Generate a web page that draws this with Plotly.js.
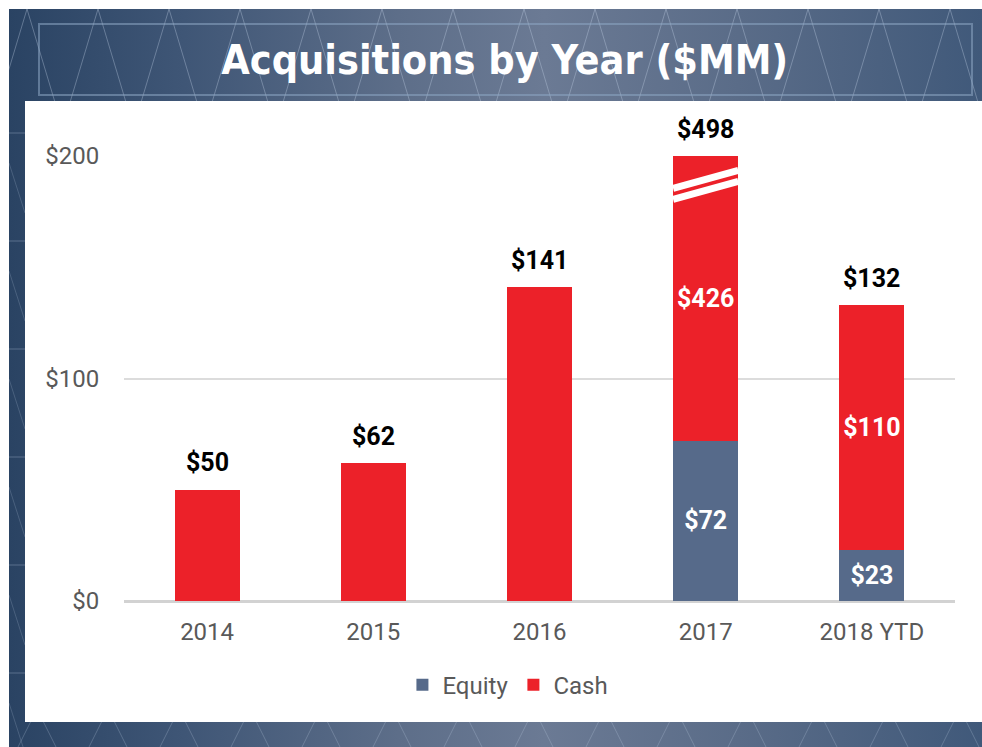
<!DOCTYPE html>
<html>
<head>
<meta charset="utf-8">
<script src="https://cdn.plot.ly/plotly-3.0.1.min.js"></script>
<style>
  html, body { margin: 0; padding: 0; background: #ffffff; }
  #wrap { position: relative; width: 982px; height: 747px; overflow: hidden; background: #ffffff; }
  #bg { position: absolute; left: 9px; top: 9px; width: 973px; height: 738px;
        background: linear-gradient(to right, #2a4363 0%, #3f5676 18%, #5d6e89 40%, #6b7a94 55%, #5a6c88 75%, #40597a 100%); }
  #pattern { position: absolute; left: 9px; top: 9px; width: 973px; height: 738px; }
  #panel { position: absolute; left: 25px; top: 101px; width: 957px; height: 621px; background: #ffffff; }
  #titlebox { position: absolute; left: 38px; top: 23px; width: 931px; height: 69px;
              border: 2px solid rgba(140,165,195,0.55); }
  #chart { position: absolute; left: 0; top: 0; width: 982px; height: 747px; }
</style>
</head>
<body>
<div id="wrap">
  <div id="bg"></div>
  <svg id="pattern" width="973" height="738"></svg>
  <div id="titlebox"></div>
  <div id="panel"></div>
  <div id="chart"></div>
</div>
<script>
// ---- data ----
const years  = ['2014', '2015', '2016', '2017', '2018 YTD'];
const equity = [0, 0, 0, 72, 23];
const cash   = [50, 62, 141, 426, 110];
const totals = [50, 62, 141, 498, 132];
const yTickVals = [0, 100, 200];
const yTickText = ['$0', '$100', '$200'];
const axisMax = 200;

// ---- decorative background pattern ----
(function () {
  const svg = document.getElementById('pattern');
  const ns = 'http://www.w3.org/2000/svg';
  function line(x1, y1, x2, y2, op) {
    const l = document.createElementNS(ns, 'line');
    l.setAttribute('x1', x1); l.setAttribute('y1', y1);
    l.setAttribute('x2', x2); l.setAttribute('y2', y2);
    l.setAttribute('stroke', 'rgba(200,215,235,' + op + ')');
    l.setAttribute('stroke-width', '1');
    svg.appendChild(l);
  }
  for (let k = -1; k < 16; k++) {
    const ax = 18 + 71 * k;
    line(ax, 0, ax - 36, 120, 0.35);
    line(ax, 0, ax + 36, 120, 0.35);
    line(ax + 10, 700, ax - 20, 760, 0.25);
    line(ax + 10, 700, ax + 40, 760, 0.25);
  }
  for (let j = 0; j < 7; j++) {
    const yy = 124 + 108 * j;
    line(0, yy, 16, yy, 0.3);
    line(0, yy + 30, 16, yy + 80, 0.2);
  }
})();

// ---- derived display values (2017 cash is broken at the axis max) ----
const cashShown = cash.map((c, i) => Math.min(c, axisMax - equity[i]));
const stackTop  = cashShown.map((c, i) => c + equity[i]);

const equityText = equity.map(v => v > 0 ? '$' + v : '');
const cashText   = cash.map((v, i) => equity[i] > 0 ? '$' + v : '');

const labelFont = { family: 'Roboto, Arial, sans-serif', size: 25, color: '#ffffff', weight: 'bold' };

const traces = [
  {
    type: 'bar', name: 'Equity', x: years, y: equity,
    marker: { color: '#566a8a', line: { width: 0 } },
    text: equityText, textposition: 'inside', insidetextanchor: 'middle', textangle: 0,
    insidetextfont: labelFont, hoverinfo: 'x+name+y'
  },
  {
    type: 'bar', name: 'Cash', x: years, y: cashShown,
    customdata: cash,
    marker: { color: '#ec2129', line: { width: 0 } },
    text: cashText, textposition: 'inside', insidetextanchor: 'middle', textangle: 0,
    insidetextfont: labelFont, hovertemplate: '%{x}<br>Cash: $%{customdata}<extra></extra>'
  }
];

// total labels above each stack (x given as category index)
const annotations = years.map((yr, i) => ({
  x: i, y: stackTop[i], xref: 'x', yref: 'y',
  text: '$' + totals[i], showarrow: false,
  yanchor: 'middle', yshift: 27,
  font: { family: 'Roboto, Arial, sans-serif', size: 25, color: '#000000', weight: 'bold' }
}));

// break marks on the capped 2017 bar (white slanted bands)
const bi = cash.findIndex((c, i) => c + equity[i] > axisMax);
const shapes = [];
if (bi >= 0) {
  const hw = 0.2;
  const bands = [[185.4, 193.5], [180.5, 188.6]];
  bands.forEach(b => {
    shapes.push({
      type: 'line', xref: 'x', yref: 'y', layer: 'above',
      x0: bi - hw + 0.004, y0: b[0], x1: bi + hw - 0.004, y1: b[1],
      line: { color: '#ffffff', width: 7 }
    });
  });
}

const layout = {
  width: 982, height: 747,
  paper_bgcolor: 'rgba(0,0,0,0)', plot_bgcolor: '#ffffff',
  margin: { l: 124, r: 27, t: 156, b: 146 },
  barmode: 'stack', bargap: 0.61,
  title: {
    text: 'Acquisitions by Year ($MM)',
    x: 0.514, xref: 'container', xanchor: 'center',
    y: 1 - 60 / 747, yref: 'container', yanchor: 'middle',
    font: { family: 'Liberation Sans Narrow, DejaVu Sans Condensed, Roboto Condensed, Roboto, sans-serif', size: 41, color: '#ffffff', weight: 'bold' }
  },
  xaxis: {
    type: 'category', range: [-0.5, 4.5], autorange: false,
    showgrid: false, zeroline: false, showline: false,
    ticks: 'outside', ticklen: 9, tickcolor: 'rgba(0,0,0,0)',
    tickfont: { family: 'Roboto, Arial, sans-serif', size: 24, color: '#595959' },
    fixedrange: true
  },
  yaxis: {
    range: [0, axisMax], autorange: false, tickmode: 'array', tickvals: yTickVals, ticktext: yTickText,
    showgrid: true, gridcolor: '#dcdcdc', gridwidth: 2,
    zeroline: true, zerolinecolor: '#d2d2d2', zerolinewidth: 3,
    showline: false, ticks: 'outside', ticklen: 19, tickcolor: 'rgba(0,0,0,0)',
    tickfont: { family: 'Roboto, Arial, sans-serif', size: 24, color: '#595959' },
    fixedrange: true
  },
  showlegend: true,
  legend: {
    orientation: 'h', x: 0.462, xanchor: 'center', y: -0.189, yanchor: 'middle',
    font: { family: 'Roboto, Arial, sans-serif', size: 24, color: '#595959' },
    bgcolor: 'rgba(0,0,0,0)', itemwidth: 30, traceorder: 'normal'
  },
  annotations: annotations,
  shapes: shapes
};

Plotly.newPlot('chart', traces, layout, { displayModeBar: false });
</script>
</body>
</html>
